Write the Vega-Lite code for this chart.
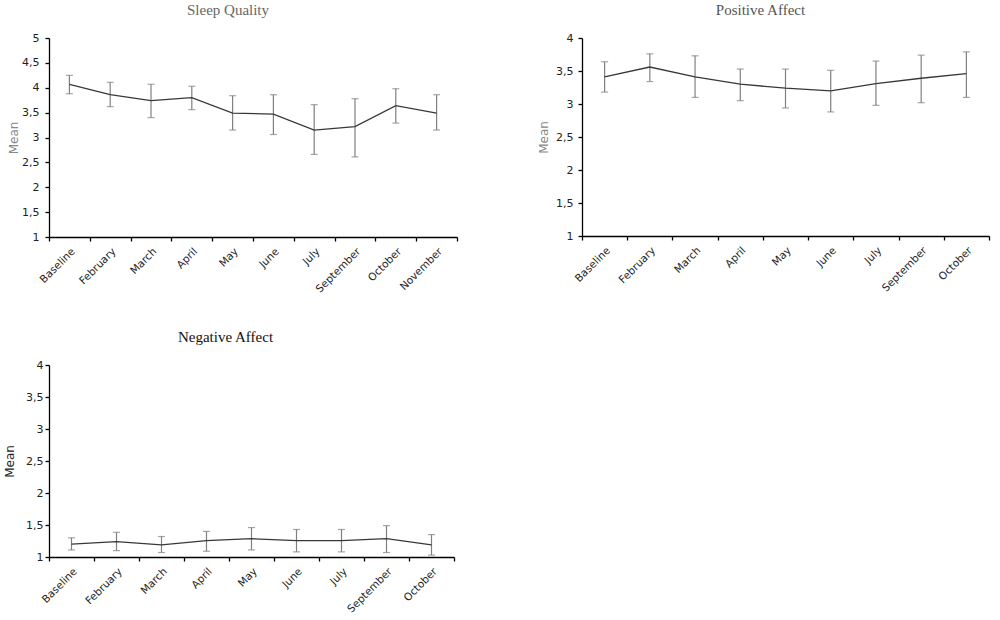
{
  "$schema": "https://vega.github.io/schema/vega-lite/v6.json",
  "background": "white",
  "padding": {"left": 3, "top": 3, "right": 5, "bottom": 2},
  "datasets": {
    "sleep": [
      {"month": "Baseline", "mean": 4.07, "lo": 3.88, "hi": 4.25},
      {"month": "February", "mean": 3.86, "lo": 3.62, "hi": 4.11},
      {"month": "March", "mean": 3.74, "lo": 3.40, "hi": 4.07},
      {"month": "April", "mean": 3.80, "lo": 3.56, "hi": 4.03},
      {"month": "May", "mean": 3.49, "lo": 3.15, "hi": 3.84},
      {"month": "June", "mean": 3.47, "lo": 3.06, "hi": 3.86},
      {"month": "July", "mean": 3.15, "lo": 2.66, "hi": 3.66},
      {"month": "September", "mean": 3.22, "lo": 2.61, "hi": 3.78},
      {"month": "October", "mean": 3.64, "lo": 3.29, "hi": 3.98},
      {"month": "November", "mean": 3.49, "lo": 3.15, "hi": 3.86}
    ],
    "positive": [
      {"month": "Baseline", "mean": 3.41, "lo": 3.18, "hi": 3.64},
      {"month": "February", "mean": 3.56, "lo": 3.34, "hi": 3.76},
      {"month": "March", "mean": 3.41, "lo": 3.10, "hi": 3.73},
      {"month": "April", "mean": 3.30, "lo": 3.05, "hi": 3.53},
      {"month": "May", "mean": 3.24, "lo": 2.94, "hi": 3.53},
      {"month": "June", "mean": 3.20, "lo": 2.88, "hi": 3.51},
      {"month": "July", "mean": 3.31, "lo": 2.98, "hi": 3.65},
      {"month": "September", "mean": 3.39, "lo": 3.02, "hi": 3.74},
      {"month": "October", "mean": 3.46, "lo": 3.10, "hi": 3.79}
    ],
    "negative": [
      {"month": "Baseline", "mean": 1.20, "lo": 1.11, "hi": 1.30},
      {"month": "February", "mean": 1.24, "lo": 1.10, "hi": 1.385},
      {"month": "March", "mean": 1.19, "lo": 1.07, "hi": 1.32},
      {"month": "April", "mean": 1.255, "lo": 1.09, "hi": 1.40},
      {"month": "May", "mean": 1.286, "lo": 1.11, "hi": 1.46},
      {"month": "June", "mean": 1.255, "lo": 1.08, "hi": 1.43},
      {"month": "July", "mean": 1.255, "lo": 1.08, "hi": 1.43},
      {"month": "September", "mean": 1.286, "lo": 1.07, "hi": 1.49},
      {"month": "October", "mean": 1.19, "lo": 1.03, "hi": 1.35}
    ]
  },
  "vconcat": [
    {
      "hconcat": [
        {
          "title": {"text": "Sleep Quality", "color": "#666666", "dx": -25},
          "width": 408,
          "height": 199,
          "data": {"name": "sleep"},
          "encoding": {
            "x": {"field": "month", "type": "nominal", "sort": null, "bandPosition": 0.5,
                  "scale": {"type": "band", "paddingInner": 0, "paddingOuter": 0}, "title": null},
            "y": {"type": "quantitative", "scale": {"domain": [1, 5]},
                  "axis": {"values": [1, 1.5, 2, 2.5, 3, 3.5, 4, 4.5, 5], "title": "Mean", "titleColor": "#888888",
                           "labelPadding": 6, "titlePadding": 1}}
          },
          "layer": [
            {"mark": {"type": "rule", "color": "#808080", "strokeWidth": 1.2},
             "encoding": {"y": {"field": "lo"}, "y2": {"field": "hi"}}},
            {"mark": {"type": "tick", "color": "#808080", "thickness": 1.2, "size": 7},
             "encoding": {"y": {"field": "lo"}}},
            {"mark": {"type": "tick", "color": "#808080", "thickness": 1.2, "size": 7},
             "encoding": {"y": {"field": "hi"}}},
            {"mark": {"type": "line", "color": "#383838", "strokeWidth": 1.3},
             "encoding": {"y": {"field": "mean"}}}
          ]
        },
        {
          "title": {"text": "Positive Affect", "color": "#555555", "dx": -25},
          "width": 407,
          "height": 198,
          "data": {"name": "positive"},
          "encoding": {
            "x": {"field": "month", "type": "nominal", "sort": null, "bandPosition": 0.5,
                  "scale": {"type": "band", "paddingInner": 0, "paddingOuter": 0}, "title": null},
            "y": {"type": "quantitative", "scale": {"domain": [1, 4]},
                  "axis": {"values": [1, 1.5, 2, 2.5, 3, 3.5, 4], "title": "Mean", "titleColor": "#888888",
                           "labelPadding": 5, "titlePadding": 5}}
          },
          "layer": [
            {"mark": {"type": "rule", "color": "#808080", "strokeWidth": 1.2},
             "encoding": {"y": {"field": "lo"}, "y2": {"field": "hi"}}},
            {"mark": {"type": "tick", "color": "#808080", "thickness": 1.2, "size": 7},
             "encoding": {"y": {"field": "lo"}}},
            {"mark": {"type": "tick", "color": "#808080", "thickness": 1.2, "size": 7},
             "encoding": {"y": {"field": "hi"}}},
            {"mark": {"type": "line", "color": "#383838", "strokeWidth": 1.3},
             "encoding": {"y": {"field": "mean"}}}
          ]
        }
      ]
    },
    {
      "title": {"text": "Negative Affect", "color": "#111111", "dx": -26},
      "width": 405,
      "height": 192,
      "data": {"name": "negative"},
      "encoding": {
        "x": {"field": "month", "type": "nominal", "sort": null, "bandPosition": 0.5,
              "scale": {"type": "band", "paddingInner": 0, "paddingOuter": 0}, "title": null},
        "y": {"type": "quantitative", "scale": {"domain": [1, 4]},
              "axis": {"values": [1, 1.5, 2, 2.5, 3, 3.5, 4], "title": "Mean", "titleColor": "#222222",
                       "labelPadding": 2, "titlePadding": 9}}
      },
      "layer": [
        {"mark": {"type": "rule", "color": "#808080", "strokeWidth": 1.2},
         "encoding": {"y": {"field": "lo"}, "y2": {"field": "hi"}}},
        {"mark": {"type": "tick", "color": "#808080", "thickness": 1.2, "size": 7},
         "encoding": {"y": {"field": "lo"}}},
        {"mark": {"type": "tick", "color": "#808080", "thickness": 1.2, "size": 7},
         "encoding": {"y": {"field": "hi"}}},
        {"mark": {"type": "line", "color": "#383838", "strokeWidth": 1.3},
         "encoding": {"y": {"field": "mean"}}}
      ]
    }
  ],
  "spacing": 35,
  "config": {
    "concat": {"spacing": 79},
    "view": {"stroke": null},
    "title": {"font": "Liberation Serif", "fontSize": 15, "fontWeight": "normal", "anchor": "middle", "offset": 14},
    "axis": {
      "grid": false,
      "domainColor": "#000000",
      "domainWidth": 1.3,
      "tickColor": "#000000",
      "tickWidth": 1.3,
      "tickSize": 4,
      "labelFont": "DejaVu Sans",
      "labelFontSize": 11,
      "labelColor": "#222222",
      "titleFont": "DejaVu Sans",
      "titleFontSize": 12,
      "titleFontWeight": "normal"
    },
    "axisX": {"labelAngle": -45, "tickBand": "extent", "labelPadding": 5, "labelFontSize": 10.5},
    "axisY": {"format": "~g", "labelExpr": "replace(datum.label, '.', ',')"}
  }
}
